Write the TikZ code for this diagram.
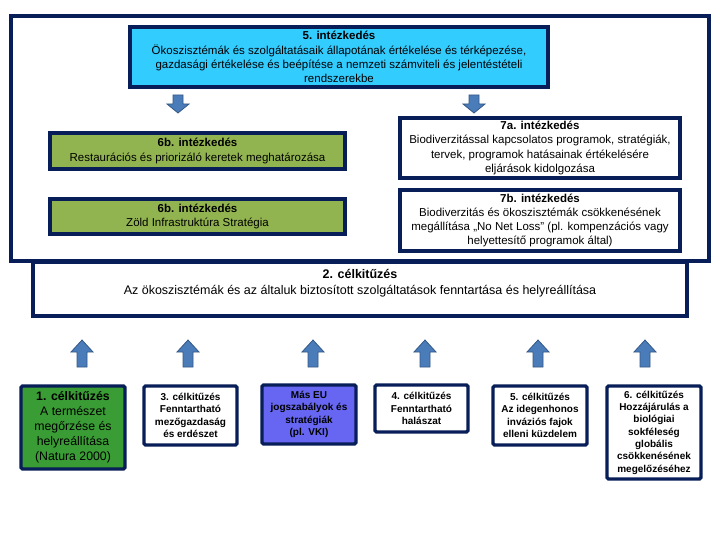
\documentclass[tikz,border=0pt]{standalone}
\usepackage{fontspec}
\setmainfont{Liberation Sans}
\definecolor{navy}{RGB}{8,30,88}
\definecolor{skyb}{RGB}{51,204,255}
\definecolor{olive}{RGB}{146,180,80}
\definecolor{grn}{RGB}{58,156,52}
\definecolor{violetb}{RGB}{102,102,242}
\definecolor{arrfill}{RGB}{74,124,186}
\definecolor{arredge}{RGB}{52,88,134}
\tikzset{
  box/.style={draw=navy, line width=3.2pt, align=center, inner sep=0pt},
  topfont/.style={font=\fontsize{11.5}{14.3}\selectfont},
  smallbox/.style={box, rounded corners=1.5pt, font=\fontsize{10}{12.3}\selectfont\bfseries},
  arrowst/.style={fill=arrfill, draw=arredge, line width=0.8pt, line join=miter},
  uparr/.pic={\path[arrowst] (0,0) -- (11,12) -- (5,12) -- (5,27) -- (-5,27) -- (-5,12) -- (-11,12) -- cycle;},
  downarr/.pic={\path[arrowst] (-5,0) -- (5,0) -- (5,9) -- (11,9) -- (0,18) -- (-11,9) -- (-5,9) -- cycle;}
}
\begin{document}
\begin{tikzpicture}[x=1pt,y=-1pt]
\useasboundingbox[fill=white] (0,0) rectangle (720,540);
% outer frame
\node[box, minimum width=698pt, minimum height=245pt] (frame) at (360,138.5) {};
% measure 5
\node[box, fill=skyb, topfont, minimum width=418pt, minimum height=60pt] (m5) at (339,57)
  {\textbf{5. intézkedés}\\Ökoszisztémák és szolgáltatásaik állapotának értékelése és térképezése,\\gazdasági értékelése és beépítése a nemzeti számviteli és jelentéstételi\\rendszerekbe};
% 6b boxes
\node[box, fill=olive, topfont, minimum width=295pt, minimum height=36pt] (m6a) at (197.5,151)
  {\textbf{6b. intézkedés}\\Restaurációs és priorizáló keretek meghatározása};
\node[box, fill=olive, topfont, minimum width=295pt, minimum height=35pt] (m6b) at (197.5,216.5)
  {\textbf{6b. intézkedés}\\Zöld Infrastruktúra Stratégia};
% 7 boxes
\node[box, fill=white, topfont, minimum width=280pt, minimum height=60pt] (m7a) at (540,148)
  {\textbf{7a. intézkedés}\\Biodiverzitással kapcsolatos programok, stratégiák,\\tervek, programok hatásainak értékelésére\\eljárások kidolgozása};
\node[box, fill=white, topfont, minimum width=280pt, minimum height=61pt] (m7b) at (540,220.5)
  {\textbf{7b. intézkedés}\\Biodiverzitás és ökoszisztémák csökkenésének\\megállítása „No Net Loss” (pl. kompenzációs vagy\\helyettesítő programok által)};
% down arrows
\pic at (178,95) {downarr};
\pic at (474,95) {downarr};
% goal 2
\node[box, fill=white, minimum width=654pt, minimum height=54pt] (g2) at (360,289) {};
\node[align=center, font=\fontsize{12.5}{15.5}\selectfont] (g2t) at (360,283)
  {\textbf{2. célkitűzés}\\Az ökoszisztémák és az általuk biztosított szolgáltatások fenntartása és helyreállítása};
% up arrows
\foreach \xx in {82,188,313,425,538,645} {\pic at (\xx,340) {uparr};}
% bottom boxes
\node[box, rounded corners=1.5pt, fill=grn, minimum width=104pt, minimum height=83pt,
  font=\fontsize{12.3}{15}\selectfont] (g1) at (73,427.5)
  {\textbf{1. célkitűzés}\\A természet\\megőrzése és\\helyreállítása\\(Natura 2000)};
\node[smallbox, fill=white, minimum width=93pt, minimum height=59pt] (g3) at (190.5,415.5)
  {3. célkitűzés\\Fenntartható\\mezőgazdaság\\és erdészet};
\node[smallbox, fill=violetb, minimum width=94pt, minimum height=59pt] (geu) at (309,414.5)
  {Más EU\\jogszabályok és\\stratégiák\\(pl. VKI)};
\node[smallbox, fill=white, minimum width=93pt, minimum height=47pt] (g4) at (421.5,408.5)
  {4. célkitűzés\\Fenntartható\\halászat};
\node[smallbox, fill=white, minimum width=94pt, minimum height=59pt] (g5) at (540,415.5)
  {5. célkitűzés\\Az idegenhonos\\inváziós fajok\\elleni küzdelem};
\node[smallbox, fill=white, minimum width=94pt, minimum height=93pt] (g6) at (654,432.5)
  {6. célkitűzés\\Hozzájárulás a\\biológiai\\sokféleség\\globális\\csökkenésének\\megelőzéséhez};
\end{tikzpicture}
\end{document}
